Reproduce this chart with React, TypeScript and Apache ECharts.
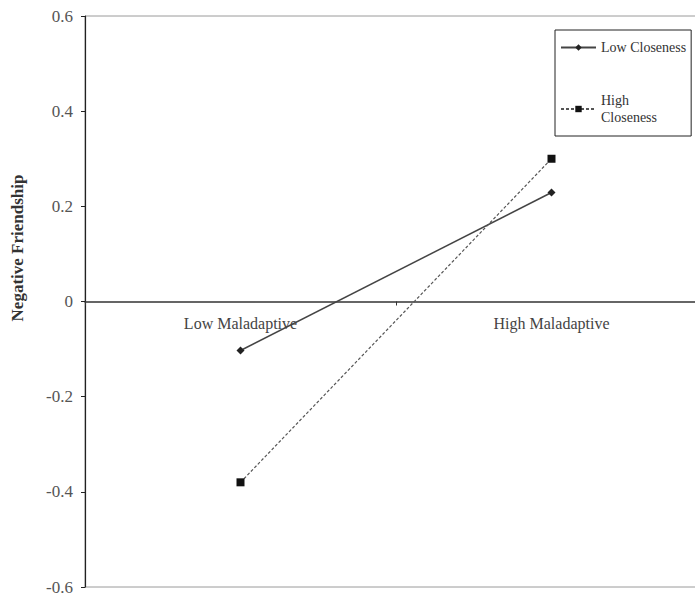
import React, { useEffect, useRef } from "react";
import * as echarts from "echarts";

const categories = ["Low Maladaptive", "High Maladaptive"];
const lowCloseness = [-0.103, 0.229];
const highCloseness = [-0.38, 0.3];
const seriesNames = ["Low Closeness", "High Closeness"];
const yTicks = { min: -0.6, max: 0.6, interval: 0.2 };

const FONT = "'Liberation Serif', 'Times New Roman', serif";

export default function App() {
  const ref = useRef<HTMLDivElement>(null);
  useEffect(() => {
    if (!ref.current) return;
    const chart = echarts.init(ref.current, undefined, { renderer: "svg" });
    const gridTop = 16;
    const gridHeight = 571;
    chart.setOption({
      animation: false,
      backgroundColor: "#fff",
      textStyle: { fontFamily: FONT },
      grid: {
        left: 85,
        top: gridTop,
        width: 622,
        height: gridHeight,
        containLabel: false,
        outerBoundsMode: "none",
        show: true,
        borderColor: "#9a9a9a",
        borderWidth: 1,
        backgroundColor: "transparent",
      },
      legend: {
        data: seriesNames,
        orient: "vertical",
        left: 555,
        top: 30,
        width: 133,
        itemWidth: 35,
        itemHeight: 8,
        itemGap: 36,
        padding: [9, 5, 10, 5],
        borderColor: "#222",
        borderWidth: 1,
        formatter: (n: string) => (n === "High Closeness" ? "High\nCloseness" : n),
        textStyle: { fontFamily: FONT, fontSize: 14, color: "#333", lineHeight: 17 },
      },
      xAxis: {
        type: "category",
        data: categories,
        boundaryGap: true,
        position: "bottom",
        offset: -gridHeight / 2,
        axisLine: { onZero: false, lineStyle: { color: "#333", width: 1.5 } },
        axisTick: { show: true, length: 4, lineStyle: { color: "#333" } },
        axisLabel: { fontFamily: FONT, fontSize: 16, color: "#444", margin: 14 },
        splitLine: { show: false },
      },
      yAxis: {
        type: "value",
        min: yTicks.min,
        max: yTicks.max,
        interval: yTicks.interval,
        axisLine: { show: true, lineStyle: { color: "#222", width: 1.2 } },
        axisTick: { show: true, length: 4, lineStyle: { color: "#222" } },
        axisLabel: {
          fontFamily: FONT,
          fontSize: 17,
          color: "#555",
          margin: 12,
          formatter: (v: number) => (Math.abs(v) < 1e-9 ? "0" : v.toFixed(1)),
        },
        splitLine: { show: false },
      },
      graphic: [
        {
          type: "text",
          x: 17,
          y: 248,
          rotation: Math.PI / 2,
          style: {
            text: "Negative Friendship",
            fontFamily: FONT,
            fontSize: 17,
            fontWeight: "bold",
            fill: "#333",
            align: "center",
            verticalAlign: "middle",
          },
        },
      ],
      series: [
        {
          name: seriesNames[0],
          type: "line",
          data: lowCloseness,
          symbol: "diamond",
          symbolSize: 8,
          itemStyle: { color: "#222" },
          lineStyle: { color: "#444", width: 1.5, type: "solid" },
        },
        {
          name: seriesNames[1],
          type: "line",
          data: highCloseness,
          symbol: "rect",
          symbolSize: 8,
          itemStyle: { color: "#111" },
          lineStyle: { color: "#555", width: 1.2, type: [3, 2] },
        },
      ],
    });
    return () => chart.dispose();
  }, []);
  return (
    <div
      ref={ref}
      style={{ position: "absolute", left: 0, top: 0, width: 695, height: 596 }}
    />
  );
}
